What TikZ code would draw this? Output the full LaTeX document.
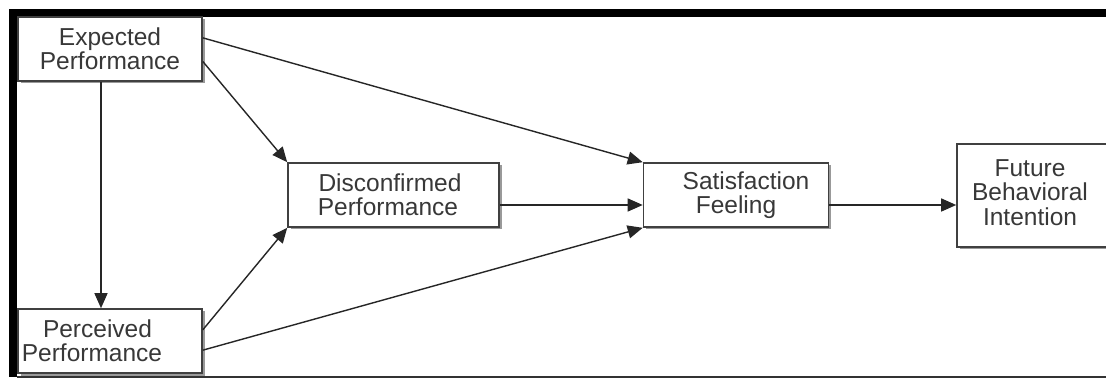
\documentclass[tikz,border=0pt]{standalone}
\usepackage{fontspec}
\setmainfont{Liberation Sans}
\usetikzlibrary{arrows.meta,shadows,calc}
\begin{document}
\begin{tikzpicture}[x=1pt,y=-1pt,
  box/.style={draw=black!75, line width=1.6pt, fill=white, align=center, inner sep=0pt,
    font=\fontsize{24.5}{24}\selectfont, text=black!78,
    drop shadow={shadow xshift=2.5pt, shadow yshift=-2.5pt, fill=black!40, opacity=1}},
  arr/.style={line width=1.4pt, draw=black!85, -{Triangle[length=15pt,width=13pt]}}]
\useasboundingbox (0,0) rectangle (1106,379);
\fill[white] (0,0) rectangle (1106,379);
\fill[black] (9,9) rectangle (1106,17);
\fill[black] (9,9) rectangle (17,377);
\draw[black!80, line width=1.5pt] (17,377) -- (1106,377);

\node[box, minimum width=184pt, minimum height=64pt] (exp) at (110,49) {Expected\\Performance};
\node[box, minimum width=184pt, minimum height=64pt] (per) at (110,341) {Perceived\hspace*{25pt}\\Performance\hspace*{36pt}};
\node[box, minimum width=211pt, minimum height=64pt] (dis) at (393.5,195) {Disconfirmed\hspace*{7pt}\\Performance\hspace*{11pt}};
\node[box, minimum width=185pt, minimum height=64pt] (sat) at (736,195) {\hspace*{20pt}Satisfaction\\Feeling};
\node[box, minimum width=160pt, minimum height=103pt, font=\fontsize{24.5}{22.5}\selectfont] (fut) at (1037,195.5)
  {\begin{tabular}{@{}c@{}}Future\\Behavioral\\Intention\end{tabular}\hspace*{14pt}};

\draw[arr] ($(exp.south)+(-9,0)$) -- ($(per.north)+(-9,0)$);
\draw[arr] ($(exp.north east)!0.33!(exp.south east)$) -- (sat.north west);
\draw[arr] ($(exp.north east)!0.69!(exp.south east)$) -- (dis.north west);
\draw[arr] ($(per.north east)!0.33!(per.south east)$) -- (dis.south west);
\draw[arr] ($(per.north east)!0.64!(per.south east)$) -- (sat.south west);
\draw[arr] ($(dis.east)+(0,10)$) -- ($(sat.west)+(0,10)$);
\draw[arr] ($(sat.east)+(0,10)$) -- ($(fut.west)+(0,9.5)$);
\end{tikzpicture}
\end{document}
